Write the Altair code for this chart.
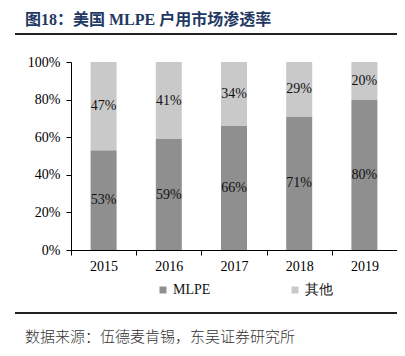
import altair as alt
import pandas as pd

# ---- data ----
years = ["2015", "2016", "2017", "2018", "2019"]
mlpe = [53, 59, 66, 71, 80]
other = [47, 41, 34, 29, 20]
series = ["MLPE", "其他"]
colors = ["#8f8f8f", "#c9c9c9"]
title_text = "图18：美国 MLPE 户用市场渗透率"
source_text = "数据来源：伍德麦肯锡，东吴证券研究所"
y_ticks = [0, 0.2, 0.4, 0.6, 0.8, 1.0]

rows = []
for i, yr in enumerate(years):
    rows.append({"year": yr, "series": series[0], "value": mlpe[i] / 100, "ord": 0})
    rows.append({"year": yr, "series": series[1], "value": other[i] / 100, "ord": 1})
df = pd.DataFrame(rows)

W, H = 326, 188
SERIF = "Liberation Serif"

x_axis = alt.Axis(
    title=None, labelAngle=0, tickBand="extent", tickSize=5,
    domainColor="#000", tickColor="#000", domainWidth=1,
    labelFont=SERIF, labelFontSize=14, labelColor="#000", labelPadding=4,
)
y_axis = alt.Axis(
    title=None, format=".0%", values=y_ticks, grid=False,
    labelOverlap=False, labelFlush=False,
    domainColor="#000", tickColor="#000", tickSize=5,
    labelFont=SERIF, labelFontSize=14, labelColor="#000", labelPadding=6,
)
x_scale = alt.Scale(paddingInner=0, paddingOuter=0)
y_scale = alt.Scale(domain=[0, 1], nice=False)

bars = alt.Chart(df).mark_bar(width=26).encode(
    x=alt.X("year:N", sort=years, scale=x_scale, axis=x_axis),
    y=alt.Y("value:Q", stack="zero", scale=y_scale, axis=y_axis),
    color=alt.Color(
        "series:N",
        scale=alt.Scale(domain=series, range=colors),
        legend=alt.Legend(
            orient="none", legendX=85, legendY=221, direction="horizontal",
            title=None, symbolType="square", symbolSize=49, symbolStrokeWidth=0,
            labelFont=SERIF, labelFontSize=14, labelColor="#111",
            columnPadding=77, padding=0, labelOffset=3,
        ),
    ),
    order=alt.Order("ord:Q"),
)

labels = (
    alt.Chart(df)
    .transform_stack(stack="value", groupby=["year"], as_=["y0", "y1"],
                     sort=[alt.SortField("ord")])
    .transform_calculate(mid="(datum.y0 + datum.y1) / 2",
                         label="format(datum.value, '.0%')")
    .mark_text(font=SERIF, fontSize=14, color="#111", baseline="middle")
    .encode(
        x=alt.X("year:N", sort=years, scale=x_scale, axis=x_axis),
        y=alt.Y("mid:Q", scale=y_scale, axis=y_axis),
        text="label:N",
    )
)

title = alt.Chart(pd.DataFrame({"t": [title_text]})).mark_text(
    font="Liberation Serif, Noto Sans CJK SC", fontSize=16, fontWeight="bold",
    color="#1f3864", align="left", baseline="middle",
).encode(x=alt.value(-46), y=alt.value(-42), text="t:N")

top_rule = alt.Chart(pd.DataFrame({"a": [0]})).mark_rule(
    color="#222", strokeWidth=2
).encode(x=alt.value(-56), x2=alt.value(334), y=alt.value(-28))

bottom_rule = alt.Chart(pd.DataFrame({"a": [0]})).mark_rule(
    color="#222", strokeWidth=2
).encode(x=alt.value(-56), x2=alt.value(334), y=alt.value(251))

source = alt.Chart(pd.DataFrame({"t": [source_text]})).mark_text(
    font="Noto Sans CJK SC", fontSize=15, fontWeight=300, color="#333",
    align="left", baseline="middle",
).encode(x=alt.value(-46), y=alt.value(275), text="t:N")

chart = (
    alt.layer(bars, labels, title, top_rule, bottom_rule, source)
    .properties(
        width=W, height=H, autosize="none",
        padding={"left": 63, "top": 54, "right": 0, "bottom": 96},
        background="white",
    )
    .configure_view(stroke=None)
)

chart.save("out.html", embed_options={"renderer": "svg", "actions": False})
